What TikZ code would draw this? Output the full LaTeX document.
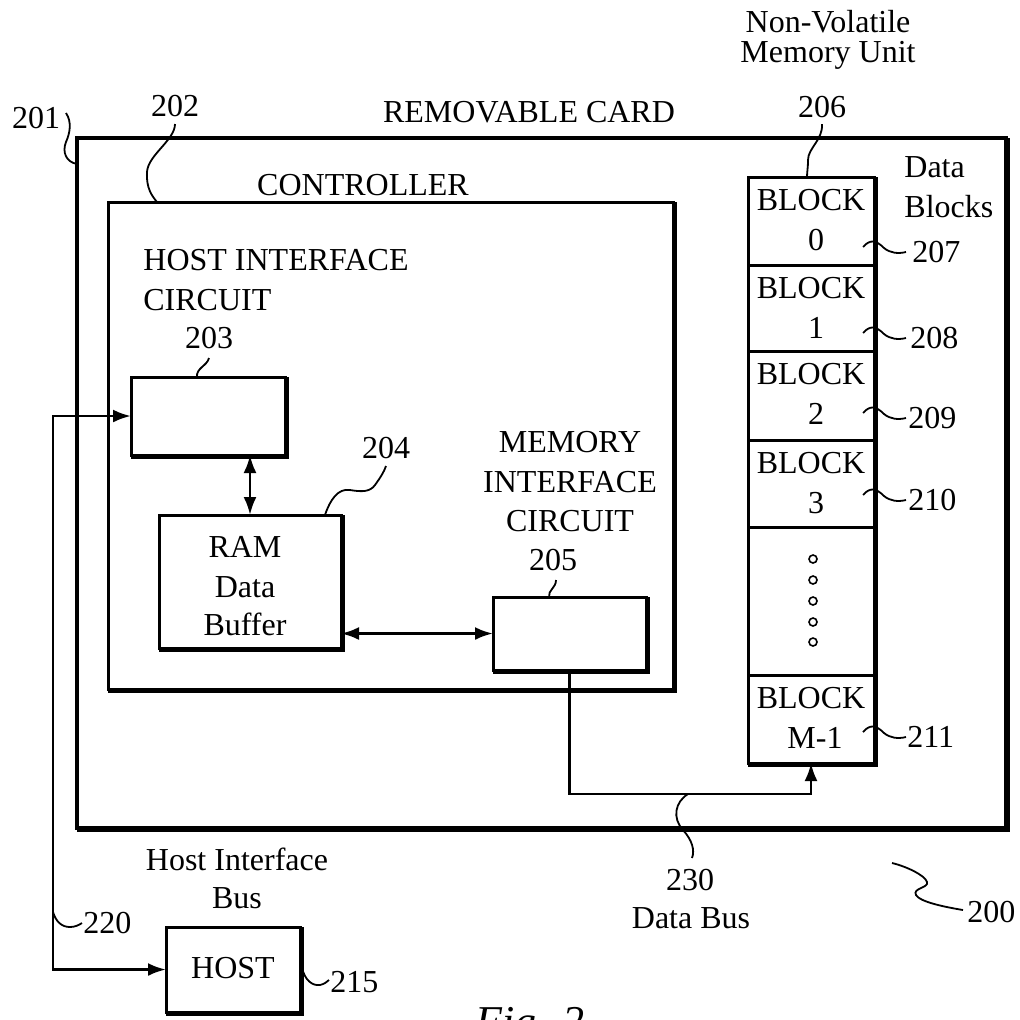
\documentclass[tikz,border=0pt]{standalone}
\usepackage{fontspec}
\setmainfont{Liberation Serif}
\usetikzlibrary{arrows.meta}
\newcommand\edgethick[1]{\draw[thickedge] ([xshift=0.75pt]#1.north east) -- ([shift={(0.75pt,-0.75pt)}]#1.south east) -- ([yshift=-0.75pt]#1.south west);}
\begin{document}
\begin{tikzpicture}[x=0.5pt,y=-0.5pt,
  >={Latex[length=9pt,width=6.5pt]},
  box/.style={draw, line width=1.5pt, inner sep=0pt, outer sep=0pt, rectangle},
  thickedge/.style={line width=2pt},
  conn/.style={line width=1.4pt},
  lead/.style={line width=0.9pt},
  lbl/.style={font=\fontsize{16}{19}\selectfont, inner sep=0pt, anchor=base},
  lblw/.style={lbl, anchor=base west},
  dotc/.style={draw, circle, line width=0.8pt, minimum size=4pt, inner sep=0pt}]
\useasboundingbox (0,0) rectangle (1020,1019);

% boxes
\node[box, line width=2pt, minimum width=464.5pt, minimum height=345pt] (card) at (541.5,483) {};
\node[box, minimum width=282.5pt, minimum height=243.5pt] (ctrl) at (390.5,445.5) {};
\node[box, minimum width=77pt, minimum height=39pt] (hic) at (208,416) {};
\node[box, minimum width=91pt, minimum height=66.5pt] (ram) at (250,581.5) {};
\node[box, minimum width=76.5pt, minimum height=36.5pt] (mic) at (569.5,633.5) {};
\node[box, minimum width=67pt, minimum height=42.5pt] (host) at (233,969.5) {};
\node[box, minimum width=63pt, minimum height=44pt] (b0) at (811,221) {};
\node[box, minimum width=63pt, minimum height=43pt] (b1) at (811,308) {};
\node[box, minimum width=63pt, minimum height=44.5pt] (b2) at (811,395.5) {};
\node[box, minimum width=63pt, minimum height=43.5pt] (b3) at (811,483.5) {};
\node[box, minimum width=63pt, minimum height=74pt] (bd) at (811,601) {};
\node[box, minimum width=63pt, minimum height=44pt] (bm) at (811,719) {};
\edgethick{card}
\edgethick{ctrl}
\edgethick{hic}
\edgethick{ram}
\edgethick{mic}
\edgethick{host}
\draw[thickedge] ([xshift=0.75pt]b0.north east) -- ([shift={(0.75pt,-0.75pt)}]bm.south east) -- ([yshift=-0.75pt]bm.south west);

% dots
\node[dotc] (d1) at (813,559) {};
\node[dotc] (d2) at (813,580) {};
\node[dotc] (d3) at (813,601) {};
\node[dotc] (d4) at (813,622) {};
\node[dotc] (d5) at (813,642) {};

% connectors
\coordinate (busx) at (53,0);
\coordinate (dbus) at (0,794);
\draw[conn,<->] (hic.west) -- (hic.west -| busx) |- (host.west);
\draw[conn,<->] (ram.north |- hic.south) -- (ram.north);
\draw[conn,<->] (ram.east |- mic.west) -- (mic.west);
\draw[conn,->] (mic.south) -- (mic.south |- dbus) -| (bm.south);

% leaders
\draw[lead] (66,113) .. controls (72,122) and (70,133) .. (66,142) .. controls (62,152) and (66,162) .. (77,164);
\draw[lead] (175,124) .. controls (175,140) and (148,155) .. (147,172) .. controls (146,188) and (152,196) .. (157,202);
\draw[lead] (197,377) .. controls (196,368) and (207,366) .. (209,358);
\draw[lead] (325,515) .. controls (330,500) and (338,488) .. (350,490) .. controls (362,492) and (370,492) .. (375,485) .. controls (380,478) and (384,472) .. (386,466);
\draw[lead] (549,597) .. controls (548,590) and (556,588) .. (556,580);
\draw[lead] (822,124) .. controls (823,140) and (808,148) .. (808,160) .. controls (808,168) and (807,172) .. (807,177);
\foreach \c in {252,338,418,500,737}{
  \draw[lead] (863,\c-5) .. controls (870,\c-13) and (876,\c-12) .. (884,\c-4) .. controls (890,\c+1) and (898,\c+2) .. (906,\c);
}
\draw[lead] (302,968) .. controls (305,980) and (312,986) .. (320,985) .. controls (324,984) and (327,982) .. (329,980);
\draw[lead] (53,912) .. controls (56,922) and (62,927) .. (70,927) .. controls (75,927) and (79,925) .. (82,923);
\draw[lead] (688,794) .. controls (675,802) and (672,818) .. (683,830) .. controls (692,840) and (695,850) .. (692,858);
\draw[lead] (892,863) .. controls (905,866) and (925,875) .. (927,882) .. controls (929,888) and (912,888) .. (916,895) .. controls (920,902) and (945,907) .. (963,910);

% labels
\node[lbl] (t201) at (36,128) {201};
\node[lbl] (t202) at (175,116) {202};
\node[lbl] (tcard) at (529,122) {REMOVABLE CARD};
\node[lbl] (tnv1) at (828,32) {Non-Volatile};
\node[lbl] (tnv2) at (828,62) {Memory Unit};
\node[lbl] (t206) at (822,117) {206};
\node[lbl] (tctrl) at (363,195) {CONTROLLER};
\node[lblw] (thi1) at (143,270) {HOST INTERFACE};
\node[lblw] (thi2) at (143,310) {CIRCUIT};
\node[lbl] (t203) at (209,348) {203};
\node[lbl] (t204) at (386,458) {204};
\node[lbl] (tmi1) at (570,452) {MEMORY};
\node[lbl] (tmi2) at (570,492) {INTERFACE};
\node[lbl] (tmi3) at (570,531) {CIRCUIT};
\node[lbl] (t205) at (553,570) {205};
\node[lbl] (tram1) at (245,557) {RAM};
\node[lbl] (tram2) at (245,597) {Data};
\node[lbl] (tram3) at (245,635) {Buffer};
\node[lblw] (tdb1) at (904,177) {Data};
\node[lblw] (tdb2) at (904,217) {Blocks};
\node[lbl] (tb0a) at (811,210) {BLOCK};
\node[lbl] (tb0b) at (816,250) {0};
\node[lbl] (tb1a) at (811,298) {BLOCK};
\node[lbl] (tb1b) at (816,338) {1};
\node[lbl] (tb2a) at (811,384) {BLOCK};
\node[lbl] (tb2b) at (816,424) {2};
\node[lbl] (tb3a) at (811,473) {BLOCK};
\node[lbl] (tb3b) at (816,513) {3};
\node[lbl] (tbma) at (811,708) {BLOCK};
\node[lbl] (tbmb) at (815,748) {M-1};
\node[lblw] (t207) at (912,262) {207};
\node[lblw] (t208) at (910,348) {208};
\node[lblw] (t209) at (908,428) {209};
\node[lblw] (t210) at (908,510) {210};
\node[lblw] (t211) at (907,747) {211};
\node[lbl] (thib1) at (237,870) {Host Interface};
\node[lbl] (thib2) at (237,908) {Bus};
\node[lblw] (t220) at (83,933) {220};
\node[lbl] (thost) at (233,978) {HOST};
\node[lblw] (t215) at (330,992) {215};
\node[lbl] (t230) at (690,890) {230};
\node[lbl] (tdbus) at (691,928) {Data Bus};
\node[lblw] (t200) at (967,922) {200};
\node[lbl, font=\fontsize{22}{26}\selectfont\itshape] (tfig) at (530,1036) {Fig. 2};
\end{tikzpicture}
\end{document}
